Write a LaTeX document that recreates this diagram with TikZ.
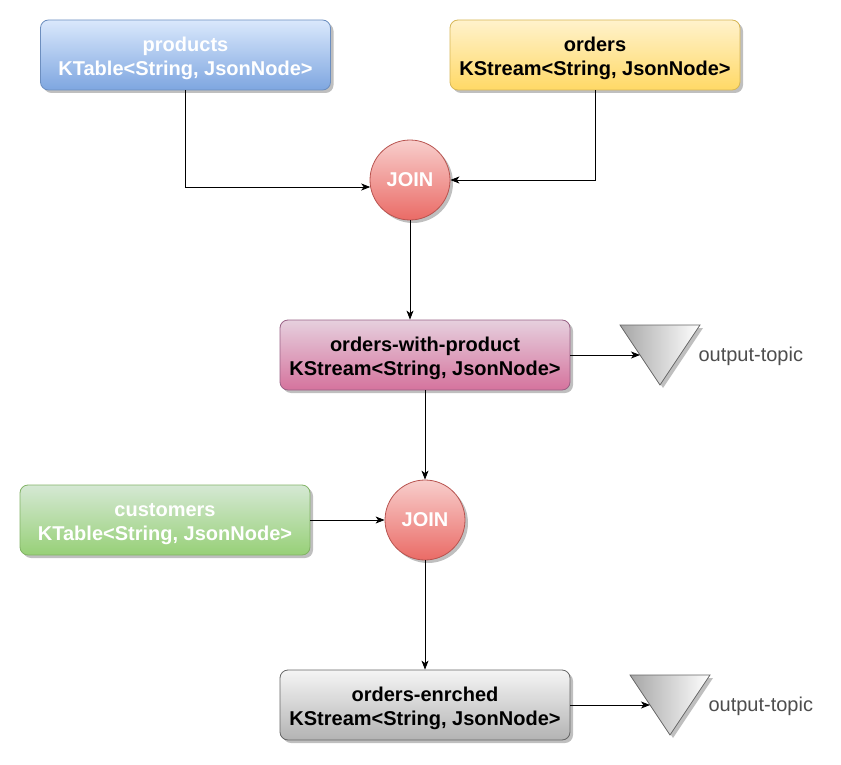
\documentclass[tikz,border=0pt]{standalone}
\usepackage{fontspec}
\setmainfont{Liberation Sans}
\usetikzlibrary{arrows.meta,shadows}

\definecolor{blueTop}{HTML}{DAE8FC}
\definecolor{blueBot}{HTML}{7EA6E0}
\definecolor{blueLine}{HTML}{6C8EBF}
\definecolor{yelTop}{HTML}{FFF2CC}
\definecolor{yelBot}{HTML}{FFD966}
\definecolor{yelLine}{HTML}{D6B656}
\definecolor{redTop}{HTML}{F8CECC}
\definecolor{redBot}{HTML}{EA6B66}
\definecolor{redLine}{HTML}{B85450}
\definecolor{pinkTop}{HTML}{E6D0DE}
\definecolor{pinkBot}{HTML}{D5739D}
\definecolor{pinkLine}{HTML}{996185}
\definecolor{greenTop}{HTML}{D5E8D4}
\definecolor{greenBot}{HTML}{97D077}
\definecolor{greenLine}{HTML}{82B366}
\definecolor{greyTop}{HTML}{F5F5F5}
\definecolor{greyBot}{HTML}{B3B3B3}
\definecolor{greyLine}{HTML}{666666}
\definecolor{topicLeft}{HTML}{A6A6A6}
\definecolor{topicText}{HTML}{4D4D4D}

\newcommand{\boxfont}{\fontsize{20}{24}\selectfont\bfseries}
\newcommand{\topgap}{\rule{0pt}{20.5pt}}

\tikzset{
  shadowed/.style={drop shadow={shadow xshift=3pt, shadow yshift=-3pt, fill=black, opacity=0.25}},
  box/.style={rectangle, rounded corners=8pt, minimum width=290pt, minimum height=70pt,
    align=center, font=\boxfont, line width=0.8pt, shadowed},
  joinop/.style={circle, minimum size=80pt, inner sep=0pt, font=\boxfont, text=white,
    top color=redTop, bottom color=redBot, draw=redLine, line width=0.8pt, shadowed},
  topic/.style={left color=topicLeft, right color=white, draw=greyLine, line width=0.8pt, shadowed},
  arr/.style={-{Stealth[length=9pt,width=7pt,inset=2.5pt]}, line width=0.8pt},
}

\begin{document}
\begin{tikzpicture}[x=1pt,y=-1pt]
\useasboundingbox (0,0) rectangle (841,765);

% sources
\node[box, top color=blueTop, bottom color=blueBot, draw=blueLine, text=white] (products) at (185.5,55) {\topgap products\\KTable<String, JsonNode>};
\node[box, top color=yelTop, bottom color=yelBot, draw=yelLine] (orders) at (595,55) {\topgap orders\\KStream<String, JsonNode>};
\node[box, top color=greenTop, bottom color=greenBot, draw=greenLine, text=white] (customers) at (165,520) {\topgap customers\\KTable<String, JsonNode>};

% joins
\node[joinop] (join1) at (410,180) {JOIN};
\node[joinop] (join2) at (425,520) {JOIN};

% results
\node[box, top color=pinkTop, bottom color=pinkBot, draw=pinkLine] (withproduct) at (425,355) {\topgap orders-with-product\\KStream<String, JsonNode>};
\node[box, top color=greyTop, bottom color=greyBot, draw=greyLine] (enriched) at (425,705) {\topgap orders-enrched\\KStream<String, JsonNode>};

% output topics
\draw[topic] (620,325) -- (700,325) -- (660,385) -- cycle;
\coordinate (topic1) at (640,355);
\node[anchor=west, text=topicText, font=\fontsize{20}{24}\selectfont] (label1) at (695,356) {output-topic};
\draw[topic] (630,675) -- (710,675) -- (670,735) -- cycle;
\coordinate (topic2) at (650,705);
\node[anchor=west, text=topicText, font=\fontsize{20}{24}\selectfont] (label2) at (705,706) {output-topic};

% connectors
\draw[arr] (products.south) |- (join1.190);
\draw[arr] (orders.south) |- (join1.east);
\draw[arr] (join1.south) -- (join1.south |- withproduct.north);
\draw[arr] (withproduct.east) -- (topic1);
\draw[arr] (withproduct.south) -- (join2.north);
\draw[arr] (customers.east) -- (join2.west);
\draw[arr] (join2.south) -- (enriched.north);
\draw[arr] (enriched.east) -- (topic2);
\end{tikzpicture}
\end{document}
